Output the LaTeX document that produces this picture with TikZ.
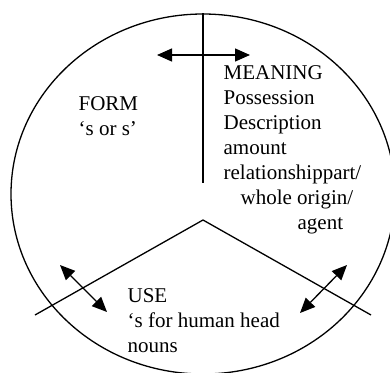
\documentclass[tikz,border=0pt]{standalone}
\usepackage{fontspec}
\setmainfont{Liberation Serif}
\usetikzlibrary{arrows.meta, shapes.geometric}
\tikzset{every picture/.style={line width=1.3pt},
         wheel/.style={draw,ellipse,inner sep=0pt,minimum width=384pt,minimum height=360pt},
         part/.style={font=\fontsize{21}{25}\selectfont,align=left,inner sep=0pt,anchor=north west},
         twoway/.style={{Triangle[length=15pt,width=13pt]}-{Triangle[length=15pt,width=13pt]}}}

\begin{document}
\begin{tikzpicture}[x=1pt,y=-1pt]
        \useasboundingbox(0,0)rectangle(390,372);
        \node[wheel](wheel)at(203,194){};

        \node[part](form)at(78,96){FORM\\`s or s'};
        \node[part](meaning)at(223,65){MEANING\\Possession\\Description\\amount\\relationshippart/\\\hspace*{17pt}whole origin/\\\hspace*{74pt}agent};
        \node[part](use)at(127,288){USE\\`s for human head\\nouns};

        \coordinate(hub)at(203,183);
        \coordinate(apex)at(203,220);
        \coordinate(lend)at(35,315);
        \coordinate(rend)at(371,315);
        \coordinate(fl)at(157,55);
        \coordinate(fr)at(250,55);
        \coordinate(ul)at(60,265);
        \coordinate(ui)at(107,312);
        \coordinate(ur)at(347,265);
        \coordinate(uj)at(300,313);

        \draw(wheel.north)--(hub);
        \draw(lend)--(apex)--(rend);
        \draw[twoway](fl)--(fr);
        \draw[twoway](ul)--(ui);
        \draw[twoway](ur)--(uj);
    \end{tikzpicture}
\end{document}
